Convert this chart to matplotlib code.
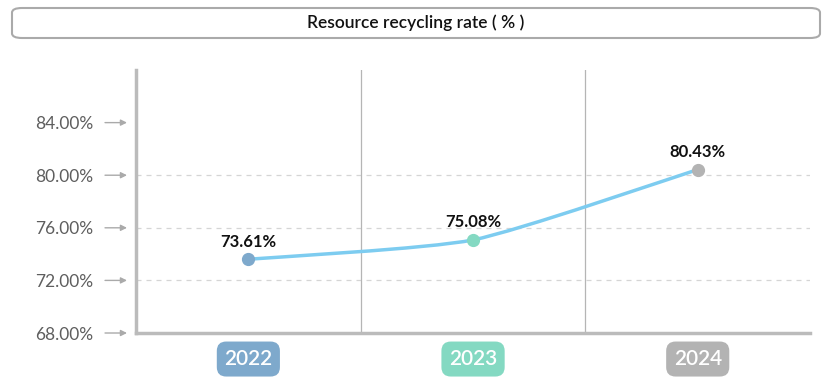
import numpy as np
import matplotlib.pyplot as plt
from matplotlib.path import Path
from matplotlib.patches import PathPatch, FancyBboxPatch

plt.rcParams['font.family'] = ['Lato', 'DejaVu Sans']

# data
years = ["2022", "2023", "2024"]
rates = [73.61, 75.08, 80.43]
point_colors = ["#7EA9CC", "#84D9C2", "#B3B3B3"]
yticks = [68, 72, 76, 80, 84]
title = "Resource recycling rate ( % )"

fig = plt.figure(figsize=(8.34, 3.86), dpi=100)
ax = fig.add_axes([0.1631, 0.1373, 0.8082, 0.6813])

x = np.arange(len(years))

# slightly smoothed line (bezier segments through the points)
s = 0.1
pts = list(zip(x, rates))
verts = [pts[0]]
codes = [Path.MOVETO]
for i in range(len(pts) - 1):
    p0 = np.array(pts[max(i - 1, 0)])
    p1 = np.array(pts[i])
    p2 = np.array(pts[i + 1])
    p3 = np.array(pts[min(i + 2, len(pts) - 1)])
    c1 = p1 + (p2 - p0) * s
    c2 = p2 - (p3 - p1) * s
    verts += [tuple(c1), tuple(c2), tuple(p2)]
    codes += [Path.CURVE4] * 3
ax.add_patch(PathPatch(Path(verts, codes), facecolor="none", edgecolor="#7DCCF0",
                       lw=2.5, zorder=3, capstyle="round"))

for xi, v, c in zip(x, rates, point_colors):
    ax.plot(xi, v, "o", color=c, markersize=8.5, zorder=4)
    ax.annotate(f"{v:.2f}%", (xi, v), xytext=(0, 7), textcoords="offset points",
                ha="center", va="bottom", fontsize=12, fontweight="bold", color="#111111")

ax.set_xlim(-0.5, len(years) - 0.5)
ax.set_ylim(68, 88)

# grid and separators
for yv in [72, 76, 80]:
    ax.axhline(yv, color="#D5D5D5", lw=0.9, ls=(0, (4, 4)), zorder=1)
for xv in [0.5, 1.5]:
    ax.axvline(xv, color="#B5B5B5", lw=0.9, zorder=1)

for sp in ["top", "right"]:
    ax.spines[sp].set_visible(False)
for sp in ["left", "bottom"]:
    ax.spines[sp].set_color("#BBBBBB")
    ax.spines[sp].set_linewidth(2.5)

ax.set_yticks(yticks)
ax.set_yticklabels([f"{t:.2f}%" for t in yticks])
ax.tick_params(axis="y", length=0, pad=31, labelsize=12.5, labelcolor="#5E5E5E")
ax.set_xticks([])

# arrows next to y ticks
ytrans = ax.get_yaxis_transform()
for t in yticks:
    ax.annotate("", xy=(-0.0134, t), xytext=(-0.046, t), xycoords=ytrans, textcoords=ytrans,
                arrowprops=dict(arrowstyle="-|>", color="#AAAAAA", lw=1, mutation_scale=9,
                                shrinkA=0, shrinkB=0), annotation_clip=False)

# year badges
xtrans = ax.get_xaxis_transform()
for xi, yr, c in zip(x, years, point_colors):
    ax.text(xi, -0.099, yr, transform=xtrans, ha="center", va="center", fontsize=15,
            fontweight="semibold", color="white",
            bbox=dict(boxstyle="round,pad=0.36,rounding_size=0.45", fc=c, ec="none"))

# title box
box = FancyBboxPatch((12 / 834, 1 - 38 / 386), 808 / 834, 30 / 386,
                     boxstyle="round,pad=0,rounding_size=0.012",
                     transform=fig.transFigure, fc="white", ec="#AAAAAA", lw=1.5)
fig.patches.append(box)
fig.text(416 / 834, 1 - 23 / 386, title, ha="center", va="center", fontsize=12.5,
         fontweight="semibold", color="#111111")

fig.savefig("out.png", dpi=100)
